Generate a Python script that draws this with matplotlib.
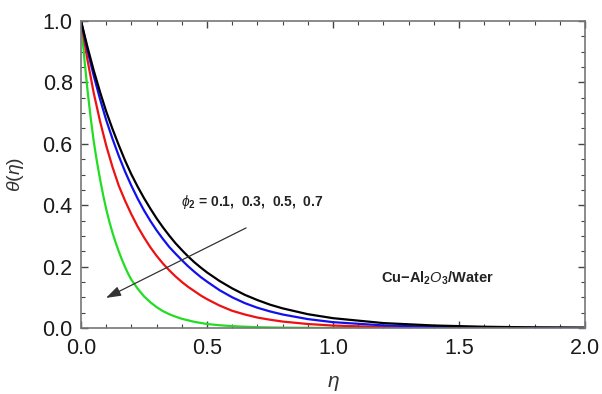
import matplotlib
matplotlib.use("Agg")
import matplotlib.pyplot as plt
from matplotlib.ticker import MultipleLocator, FormatStrFormatter

plt.rcParams['font.family'] = ['Liberation Sans', 'DejaVu Sans']
plt.rcParams['mathtext.fontset'] = 'custom'
plt.rcParams['mathtext.rm'] = 'Liberation Sans'
plt.rcParams['mathtext.it'] = 'Liberation Sans:italic'
plt.rcParams['mathtext.bf'] = 'Liberation Sans:bold'

# Temperature profiles theta(eta) for phi_2 = 0.1, 0.3, 0.5, 0.7
eta = [0.0, 0.025, 0.05, 0.075, 0.1, 0.125, 0.15, 0.175, 0.2, 0.225, 0.25, 0.275,
       0.3, 0.325, 0.35, 0.375, 0.4, 0.425, 0.45, 0.475, 0.5, 0.55, 0.6, 0.65,
       0.7, 0.75, 0.8, 0.9, 1.0, 1.2, 1.4, 1.6, 1.8, 2.0]
theta_black = [1.0, 0.917, 0.840, 0.770, 0.705, 0.648, 0.595, 0.545, 0.500, 0.460, 0.423, 0.389,
               0.357, 0.328, 0.301, 0.276, 0.254, 0.233, 0.214, 0.197, 0.181, 0.153, 0.129, 0.108,
               0.091, 0.076, 0.064, 0.045, 0.032, 0.016, 0.0082, 0.0041, 0.002, 0.001]
theta_blue = [1.0, 0.907, 0.823, 0.747, 0.677, 0.616, 0.560, 0.509, 0.463, 0.421, 0.383, 0.349,
              0.318, 0.290, 0.264, 0.242, 0.221, 0.201, 0.183, 0.166, 0.151, 0.123, 0.100, 0.081,
              0.066, 0.054, 0.044, 0.029, 0.019, 0.0085, 0.0039, 0.0018, 0.0008, 0.0004]
theta_red = [1.0, 0.876, 0.767, 0.675, 0.594, 0.524, 0.463, 0.414, 0.370, 0.330, 0.295, 0.263,
             0.235, 0.210, 0.188, 0.168, 0.150, 0.134, 0.120, 0.106, 0.094, 0.073, 0.056, 0.044,
             0.034, 0.027, 0.021, 0.013, 0.008, 0.003, 0.0012, 0.0005, 0.0002, 0.0001]

eta_green = [0.0, 0.0125, 0.025, 0.0375, 0.05, 0.0625, 0.075, 0.0875, 0.1, 0.1125, 0.125,
             0.1375, 0.15, 0.1625, 0.175, 0.1875, 0.2, 0.225, 0.25, 0.275, 0.3, 0.325,
             0.35, 0.375, 0.4, 0.45, 0.5, 0.55, 0.6, 0.7, 0.8, 1.0, 1.5, 2.0]
theta_green = [1.0, 0.883, 0.780, 0.690, 0.610, 0.545, 0.487, 0.434, 0.387, 0.346, 0.310,
               0.278, 0.249, 0.222, 0.198, 0.176, 0.157, 0.128, 0.103, 0.084, 0.068, 0.055,
               0.045, 0.037, 0.030, 0.020, 0.013, 0.009, 0.006, 0.0026, 0.0011, 0.0002, 0.0, 0.0]

fig = plt.figure(figsize=(6.02, 3.94), dpi=100)
ax = fig.add_axes([0.1346, 0.1675, 0.8372, 0.7792])

lw = 1.6
ax.plot(eta_green, theta_green, color='#22dd22', lw=lw)
ax.plot(eta, theta_red, color='#ee1111', lw=lw)
ax.plot(eta, theta_blue, color='#1111ee', lw=lw)
ax.plot(eta, theta_black, color='black', lw=lw)

ax.set_xlim(0, 2.0)
ax.set_ylim(0, 1.0)
ax.xaxis.set_major_locator(MultipleLocator(0.5))
ax.xaxis.set_minor_locator(MultipleLocator(0.1))
ax.yaxis.set_major_locator(MultipleLocator(0.2))
ax.yaxis.set_minor_locator(MultipleLocator(0.05))
ax.xaxis.set_major_formatter(FormatStrFormatter('%.1f'))
ax.yaxis.set_major_formatter(FormatStrFormatter('%.1f'))

ax.tick_params(which='both', direction='in', top=True, right=True,
               color='#444444', labelsize=15.5, labelcolor='#1a1a1a')
ax.tick_params(axis='x', which='both', pad=7)
ax.tick_params(axis='y', which='both', pad=6)
ax.tick_params(which='major', length=5, width=1.0)
ax.tick_params(which='minor', length=3, width=0.8)
for s in ax.spines.values():
    s.set_color('#777777')
    s.set_linewidth(1.2)

ax.set_xlabel(r'$\eta$', fontsize=15, color='#333333', labelpad=11)
ax.set_ylabel(r'$\theta(\eta)$', fontsize=14, color='#333333', labelpad=12)

ax.annotate('', xy=(0.099, 0.098), xytext=(0.655, 0.326),
            arrowprops=dict(arrowstyle='-|>,head_length=0.9,head_width=0.3',
                            color='#333333', lw=0.9, shrinkA=0, shrinkB=0))

ax.text(0.68, 0.41, r'$\phi_{\mathbf{2}}$ = 0.1,  0.3,  0.5,  0.7',
        fontsize=10, fontweight='bold', color='#222222', ha='center', va='center')
ax.text(1.19, 0.163, r'Cu$\mathbf{-}$Al$_{\mathbf{2}}$$O_{\mathbf{3}}$/Water',
        fontsize=10.5, fontweight='bold', color='#222222', ha='left', va='center')

fig.savefig('out.png', dpi=100)
